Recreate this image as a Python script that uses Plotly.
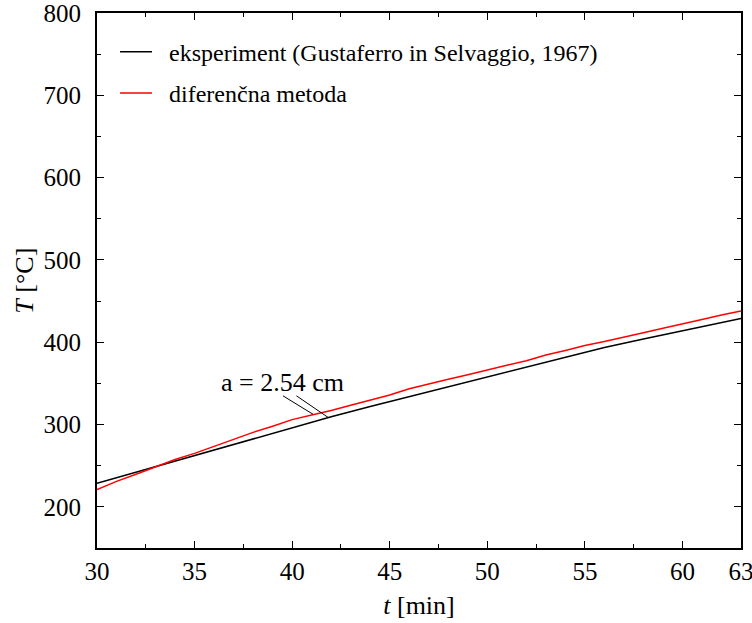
import plotly.graph_objects as go

# Data
t_exp = [30, 32, 34, 36, 38, 40, 42, 44, 46, 48, 50, 52, 54, 56, 58, 60, 62, 63]
T_exp = [228.5, 242, 256, 269.5, 283, 296.5, 309.5, 322, 334, 346, 358, 370, 382,
         393.5, 404, 414, 424, 429]

t_num = [30, 31, 32, 33, 34, 35, 36, 37, 38, 39, 40, 41, 42, 43, 44, 45, 46, 47, 48,
         49, 50, 51, 52, 53, 54, 55, 56, 57, 58, 59, 60, 61, 62, 63]
T_num = [221, 231, 239.5, 248.5, 257.5, 265, 273.5, 282, 290.5, 298, 306, 311.5, 317,
         323.5, 330, 336, 343.5, 349.5, 355, 360.5, 366.5, 372, 377.5, 384.5, 390, 396,
         401, 406, 411.5, 417, 422, 427.5, 433, 438]

x_ticks = [30, 35, 40, 45, 50, 55, 60, 63]
x_minor = [32.5, 37.5, 42.5, 47.5, 52.5, 57.5]
y_ticks = [200, 300, 400, 500, 600, 700, 800]
y_minor = [250, 350, 450, 550, 650, 750]

label_text = "a = 2.54 cm"
label_pos = (39.5, 351)
leaders = [((39.53, 334.9), (41.07, 312.5)), ((40.22, 334.9), (41.84, 308.7))]

FONT = "Liberation Serif, Times New Roman, serif"
PAD = "\u00a0\u00a0"

fig = go.Figure()
fig.add_trace(go.Scatter(x=t_exp, y=T_exp, mode="lines",
                         line=dict(color="black", width=1.5),
                         name=PAD + "eksperiment (Gustaferro in Selvaggio, 1967)",
                         legendgroup="a"))
fig.add_trace(go.Scatter(x=t_num, y=T_num, mode="lines",
                         line=dict(color="red", width=1.5),
                         name=PAD + "diferenčna metoda", legendgroup="b"))

for (x0, y0), (x1, y1) in leaders:
    fig.add_shape(type="line", x0=x0, y0=y0, x1=x1, y1=y1, xref="x", yref="y",
                  line=dict(color="black", width=1))

fig.add_annotation(x=label_pos[0], y=label_pos[1], text=label_text, showarrow=False,
                   font=dict(size=26, color="black", family=FONT))

# y-axis title as a rotated annotation
fig.add_annotation(x=-0.113, y=0.5, xref="paper", yref="paper", text="<i>T</i> [°C]",
                   textangle=-90, showarrow=False, xanchor="center", yanchor="middle",
                   font=dict(size=26, color="black", family=FONT))

axis_common = dict(showline=True, linecolor="black", linewidth=2, mirror="allticks",
                   ticks="inside", ticklen=7, tickwidth=1, tickcolor="black",
                   showgrid=False, zeroline=False, automargin=False,
                   ticklabeloverflow="allow",
                   tickfont=dict(size=25, color="black", family=FONT))

fig.update_xaxes(range=[30, 63], tickvals=x_ticks,
                 minor=dict(tickvals=x_minor, ticks="inside", ticklen=4, tickcolor="black"),
                 title=dict(text="<i>t</i> [min]", font=dict(size=26, family=FONT, color="black"),
                            standoff=12),
                 **axis_common)
fig.update_yaxes(range=[150, 800], tickvals=y_ticks, ticklabelstandoff=9,
                 minor=dict(tickvals=y_minor, ticks="inside", ticklen=4, tickcolor="black"),
                 **axis_common)

fig.update_layout(
    width=752, height=623,
    margin=dict(l=97, r=11, t=13, b=75),
    plot_bgcolor="white", paper_bgcolor="white",
    font=dict(family=FONT, color="black"),
    showlegend=True,
    legend=dict(x=0.028, y=0.969, xanchor="left", yanchor="top",
                font=dict(size=24, family=FONT, color="black"),
                itemwidth=32,
                bgcolor="rgba(0,0,0,0)", traceorder="grouped", tracegroupgap=7),
)

fig.write_html("out.html", config={"displayModeBar": False},
               post_script="document.body.style.margin='0';")
